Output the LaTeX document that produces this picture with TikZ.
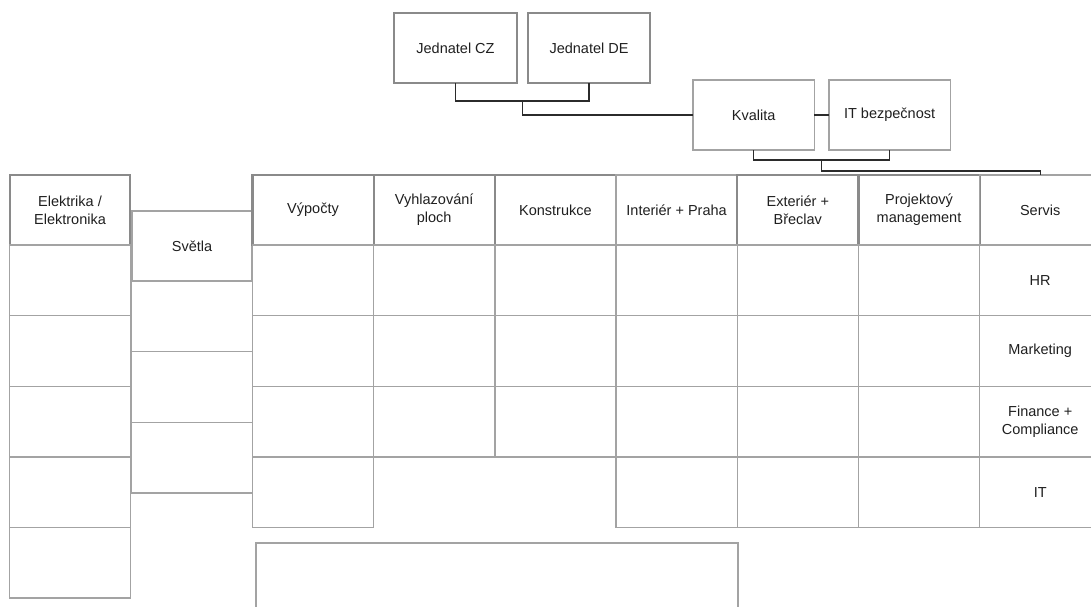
\documentclass[tikz,border=0pt]{standalone}
\usepackage{fontspec}
\setmainfont{Liberation Sans}
\usepackage{xcolor}
\usepackage{tikz}
\usetikzlibrary{positioning,calc}
\definecolor{OrgGray}{HTML}{8A8A8A}
\definecolor{OrgLight}{HTML}{A3A3A3}
\definecolor{OrgDark}{HTML}{2B2B2B}
\definecolor{OrgText}{HTML}{1F1F1F}
\tikzset{
  headbox/.style={draw=OrgGray,line width=2.2pt,outer sep=0pt,inner sep=2pt,align=center,minimum width=121.2pt,minimum height=70pt,font=\fontsize{14.5}{18}\selectfont,text=OrgText},
  thinhead/.style={headbox,draw=OrgLight,line width=1.4pt},
  cellbox/.style={draw=OrgLight,line width=1.4pt,outer sep=0pt,inner sep=2pt,align=center,minimum width=121.2pt,minimum height=70.6pt,font=\fontsize{14.5}{18}\selectfont,text=OrgText},
  orgline/.style={draw=OrgDark,line width=1.2pt}
}
\begin{document}
\begin{tikzpicture}[x=1pt,y=-1pt]
\useasboundingbox (0,0) rectangle (1091,606);
\clip (0,0) rectangle (1091,606);

% vedeni
\node[headbox,anchor=north west,minimum width=123pt] (jcz) at (394,13) {Jednatel CZ};
\node[headbox,anchor=north west,minimum width=122pt] (jde) at (528,13) {Jednatel DE};
\node[thinhead,anchor=north west] (kva) at (693,80) {Kvalita};
\node[thinhead,anchor=north west] (itb) at (829,80) {IT bezpečnost};

% oddeleni
\node[headbox,anchor=north west,minimum width=120pt] (ele0) at (10,175) {Elektrika /\\Elektronika};
\node[thinhead,anchor=north west,minimum width=120pt] (sve0) at (132,211) {Světla};
\node[headbox,anchor=north west] (vyp0) at (252.4,175) {Výpočty};
\node[headbox,anchor=north west] (vyh0) at (373.6,175) {Vyhlazování\\ploch};
\node[headbox,anchor=north west] (kon0) at (494.8,175) {Konstrukce};
\node[thinhead,anchor=north west] (int0) at (616,175) {Interiér + Praha};
\node[headbox,anchor=north west] (ext0) at (737.2,175) {Exteriér +\\Břeclav};
\node[headbox,anchor=north west] (pro0) at (858.4,175) {Projektový\\management};
\node[thinhead,anchor=north west] (srv0) at (979.6,175) {Servis};

% prazdne bunky
\foreach \col/\n in {ele/5,sve/3,vyp/4,vyh/3,kon/3,int/4,ext/4,pro/4}{
  \foreach \i [remember=\i as \prev (initially 0)] in {1,...,\n}{
    \node[cellbox,below=0pt of \col\prev] (\col\i) {};
  }
}
\node[cellbox,below=0pt of srv0] (srv1) {HR};
\node[cellbox,below=0pt of srv1] (srv2) {Marketing};
\node[cellbox,below=0pt of srv2] (srv3) {Finance +\\Compliance};
\node[cellbox,below=0pt of srv3] (srv4) {IT};

\node[cellbox,anchor=north west,minimum width=482pt,minimum height=100pt] (dole) at (256,543) {};

% spojeni
\draw[orgline] (jcz.south) -- ++(0,18) -| coordinate[pos=.25] (jmid) (jde.south);
\draw[orgline] (jmid) |- (kva.west);
\draw[orgline] (kva.east) -- (itb.west);
\draw[orgline] (kva.south) -- ++(0,10) -| coordinate[pos=.25] (kmid) (itb.south);
\draw[orgline] (kmid) -- ++(0,11) -| (srv0.north);
\end{tikzpicture}
\end{document}
